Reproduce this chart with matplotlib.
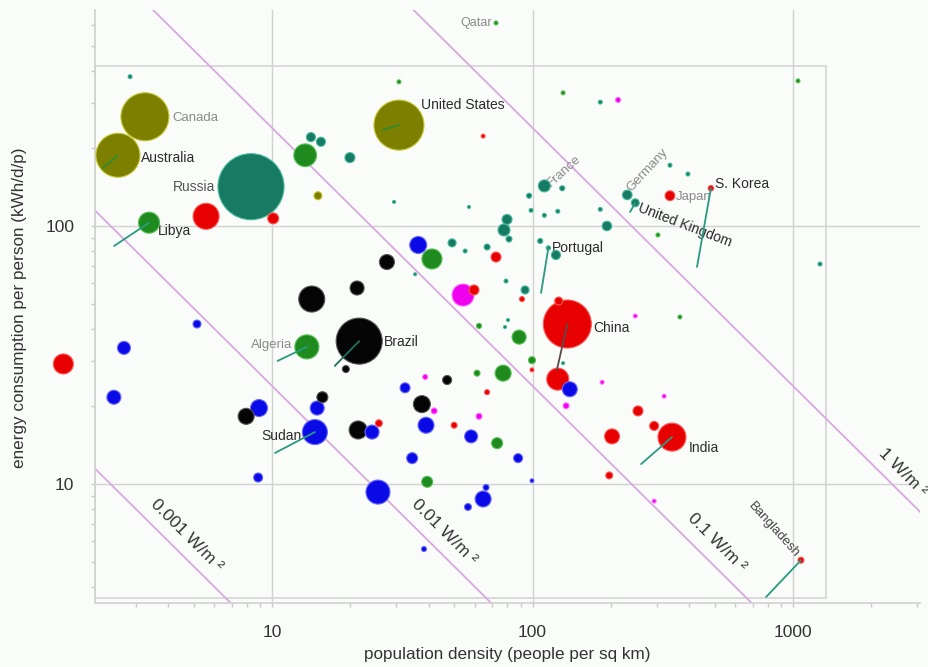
import matplotlib

matplotlib.use("Agg")
import matplotlib.pyplot as plt
import numpy as np
from matplotlib.ticker import FixedLocator, NullFormatter, LogLocator

plt.rcParams["font.family"] = ["Liberation Sans", "DejaVu Sans"]

# density (people per sq km), energy (kWh/d/p), land area (million sq km) per region
olive_density = [3.25, 2.56, 30.7, 15.0]
olive_energy = [265, 188, 246, 131]
olive_area = [9.0, 7.56, 9.77, 0.25]

teal_density = [2.85, 8.3, 14.1, 15.4, 19.9, 29.4, 49.1, 55.1, 35.4, 182, 111, 130, 97, 98.7,
                111, 125, 182, 193, 231, 248, 337, 395, 79.8, 77.7, 81.2, 57.0, 1269, 107,
                115, 123, 66.9, 79.1, 93.6, 80.5, 78.4, 131]
teal_energy = [379, 142, 221, 212, 184, 124, 86, 80, 65, 302, 143, 140, 131, 115,
               110, 114, 116, 100, 132, 123, 172, 159, 106, 96.5, 89, 118.5, 71.2, 87.5,
               82.2, 77.2, 82.9, 61.2, 56.5, 43.2, 40.6, 29.4]
teal_area = [0.06, 17.0, 0.32, 0.32, 0.39, 0.035, 0.25, 0.06, 0.035, 0.06, 0.56, 0.1, 0.1, 0.06,
             0.06, 0.06, 0.06, 0.35, 0.36, 0.24, 0.06, 0.06, 0.39, 0.56, 0.14, 0.035, 0.06, 0.1,
             0.07, 0.32, 0.14, 0.06, 0.25, 0.035, 0.035, 0.035]

green_density = [3.37, 13.4, 30.7, 41.1, 72.4, 131, 303, 1045, 62.3, 88.8, 99.5, 77.1, 61.2,
                 368, 73.1, 13.6, 39.4]
green_energy = [103, 188, 362, 74.5, 612, 328, 92.3, 365, 41.0, 37.1, 30.2, 26.9, 26.9,
                44.4, 14.4, 34.0, 10.2]
green_area = [1.72, 2.0, 0.06, 1.56, 0.06, 0.06, 0.06, 0.06, 0.1, 0.77, 0.19, 1.0, 0.14,
              0.06, 0.47, 2.25, 0.47]

red_density = [5.58, 10.1, 64.6, 337, 484, 72.4, 91.1, 59.6, 136, 126, 99.5, 66.9, 125,
               254, 293, 343, 202, 197, 1073, 25.7, 50.0, 1.58]
red_energy = [109, 107, 223, 131, 140, 75.8, 52.1, 56.5, 41.7, 51.2, 27.7, 22.7, 25.5,
              19.2, 16.8, 15.2, 15.3, 10.8, 5.07, 17.2, 16.9, 29.2]
red_area = [2.64, 0.47, 0.06, 0.38, 0.12, 0.39, 0.1, 0.39, 9.0, 0.25, 0.06, 0.1, 1.9,
            0.39, 0.32, 3.06, 0.88, 0.19, 0.14, 0.19, 0.14, 1.56]

blue_density = [5.15, 36.4, 139, 58.1, 88.0, 99.5, 66.3, 64.6, 56.5, 32.4, 8.91, 14.9, 14.6,
                24.2, 39.0, 34.5, 8.84, 25.5, 38.3, 2.70, 2.47]
blue_energy = [41.7, 84.4, 23.3, 15.3, 12.6, 10.3, 9.7, 8.75, 8.15, 23.6, 19.7, 19.7, 15.9,
               15.9, 16.9, 12.6, 10.6, 9.31, 5.6, 33.7, 21.7]
blue_area = [0.25, 1.13, 0.88, 0.66, 0.32, 0.06, 0.14, 1.0, 0.19, 0.39, 1.13, 0.77, 2.44,
             0.77, 1.0, 0.47, 0.32, 2.25, 0.1, 0.66, 0.77]

black_density = [27.6, 14.2, 21.2, 21.6, 19.2, 47.0, 15.6, 7.95, 21.4, 37.6]
black_energy = [72.5, 52.1, 57.5, 35.8, 27.9, 25.3, 21.7, 18.3, 16.2, 20.4]
black_area = [0.88, 2.64, 0.77, 8.27, 0.19, 0.32, 0.47, 1.0, 1.27, 1.13]

magenta_density = [54.1, 213, 248, 185, 320, 134.5, 293, 62.3, 38.7, 41.9]
magenta_energy = [54.0, 308, 44.8, 24.8, 21.9, 20.1, 8.59, 18.3, 26.0, 19.2]
magenta_area = [1.9, 0.1, 0.06, 0.06, 0.06, 0.14, 0.06, 0.14, 0.1, 0.14]

regions = {
    "olive": (olive_density, olive_energy, olive_area, "#7d7f00", "#c9c93a"),
    "teal": (teal_density, teal_energy, teal_area, "#177a63", "#45b89a"),
    "green": (green_density, green_energy, green_area, "#1f8b1f", "#55c055"),
    "red": (red_density, red_energy, red_area, "#e60000", "#ff5a5a"),
    "blue": (blue_density, blue_energy, blue_area, "#0a0ae6", "#6a6aff"),
    "black": (black_density, black_energy, black_area, "#050505", "#555555"),
    "magenta": (magenta_density, magenta_energy, magenta_area, "#ee00ee", "#ff70ff"),
}

# name, region, index, offset x/y (px), ha, rotation, colour, size
labels = [
    ("Qatar", "green", 4, -4, 0, "right", 0, "#8a8a8a", 9),
    ("Canada", "olive", 0, 27, -1, "left", 0, "#8a8a8a", 9.5),
    ("United States", "olive", 2, 22, 20, "left", 0, "#2b2b2b", 10),
    ("Australia", "olive", 1, 23, -3, "left", 0, "#2b2b2b", 10),
    ("Russia", "teal", 1, -36, 0, "right", 0, "#555555", 10),
    ("Libya", "green", 0, 9, -8, "left", 0, "#2b2b2b", 10),
    ("France", "teal", 10, 5, 1, "left", 42, "#8a8a8a", 9.5),
    ("Germany", "teal", 18, 2, 5, "left", 47, "#8a8a8a", 9.5),
    ("United Kingdom", "teal", 19, 3, -5, "left", -21, "#2b2b2b", 10),
    ("Japan", "red", 3, 6, -1, "left", 0, "#8a8a8a", 9.5),
    ("S. Korea", "red", 4, 4, 4, "left", 0, "#2b2b2b", 10),
    ("Portugal", "teal", 28, 4, 0, "left", 0, "#2b2b2b", 10),
    ("China", "red", 8, 26, -4, "left", 0, "#2b2b2b", 10),
    ("Algeria", "green", 15, -15, 2, "right", 0, "#8a8a8a", 9.5),
    ("Brazil", "black", 3, 25, -1, "left", 0, "#2b2b2b", 10),
    ("Sudan", "blue", 12, -54, -4, "left", 0, "#2b2b2b", 10),
    ("India", "red", 15, 17, -11, "left", 0, "#2b2b2b", 10),
    ("Bangladesh", "red", 18, -4, 4, "right", -48, "#444444", 9.5),
]

# leader lines: region, index, start density, start energy, colour
leaders = [
    ("olive", 1, 2.245, 168, "#2e8b2e"),
    ("green", 0, 2.475, 83.7, "#2a9a80"),
    ("olive", 2, 26.7, 236, "#2e8b2e"),
    ("green", 15, 10.5, 30.0, "#2a9a80"),
    ("black", 3, 17.4, 28.7, "#1f6f5f"),
    ("blue", 12, 10.27, 13.2, "#2a9a80"),
    ("teal", 28, 107.8, 55.0, "#2a9a80"),
    ("red", 8, 124, 27.7, "#5a4a4a"),
    ("red", 4, 428, 69.4, "#2a9a80"),
    ("teal", 19, 236.7, 113.3, "#2a9a80"),
    ("red", 15, 261, 11.95, "#2a9a80"),
    ("red", 18, 788, 3.65, "#2a9a80"),
]

power_levels = [0.001, 0.01, 0.1, 1]
power_label_x = [4.68, 45.7, 511, 2644]
power_label_y = [6.34, 6.52, 5.96, 11.1]

bg = "#f9fcf9"
fig = plt.figure(figsize=(9.29, 6.67), dpi=100, facecolor=bg)
ax = fig.add_axes([95 / 929, 1 - 603 / 667, 825 / 929, 593 / 667], facecolor=bg)
ax.set_xscale("log")
ax.set_yscale("log")
ax.set_xlim(2.09, 3073)
ax.set_ylim(3.46, 687)

for s in ["top", "right"]:
    ax.spines[s].set_visible(False)
for s in ["left", "bottom"]:
    ax.spines[s].set_color("#d0d0d0")
    ax.spines[s].set_linewidth(1.2)

ax.xaxis.set_major_locator(FixedLocator([10, 100, 1000]))
ax.yaxis.set_major_locator(FixedLocator([10, 100]))
ax.set_xticklabels(["10", "100", "1000"])
ax.set_yticklabels(["10", "100"])
ax.xaxis.set_minor_locator(LogLocator(subs=np.arange(2, 10)))
ax.yaxis.set_minor_locator(LogLocator(subs=np.arange(2, 10)))
ax.xaxis.set_minor_formatter(NullFormatter())
ax.yaxis.set_minor_formatter(NullFormatter())
ax.tick_params(which="both", color="#c8c8c8", length=3, width=1)
ax.tick_params(axis="x", which="major", labelsize=12.5, labelcolor="#333333", pad=13)
ax.tick_params(axis="y", which="major", labelsize=12.5, labelcolor="#333333", pad=12)

ax.grid(True, which="major", color="#d2d2d2", lw=1, zorder=0)
ax.set_axisbelow(True)

# inner frame
bx = [2.09, 1339, 1339, 2.09, 2.09]
by = [3.62, 3.62, 417, 417, 3.62]
ax.plot(bx, by, color="#d4d4d4", lw=1.2, zorder=1)

# constant power-per-area lines: 1 kWh/d = 1000/24 W
d = np.array([0.5, 20000.0])
for p, lx, ly in zip(power_levels, power_label_x, power_label_y):
    ax.plot(d, p * 1e6 * 24 / 1000 / d, color="#d8a8e0", lw=1.3, zorder=1)
    txt = f"{p:g} W/m ²"
    ax.text(lx, ly, txt, rotation=-45, ha="center", va="center", fontsize=12.5,
            color="#333333", rotation_mode="anchor", zorder=2)

# draw all bubbles, biggest first
allx, ally, alls, allc, alle = [], [], [], [], []
for name, (dx, ex, ar, fc, ec) in regions.items():
    for x, y, a in zip(dx, ex, ar):
        allx.append(x); ally.append(y); alls.append(133 * a); allc.append(fc); alle.append(ec)
order = np.argsort(alls)[::-1]
ax.scatter(np.array(allx)[order], np.array(ally)[order], s=np.array(alls)[order],
           c=np.array(allc)[order], edgecolors=np.array(alle)[order], linewidths=0.8,
           zorder=3, clip_on=False)

for reg, i, sx, sy, col in leaders:
    px = regions[reg][0][i]
    py = regions[reg][1][i]
    ax.plot([sx, px], [sy, py], color=col, lw=1.3, zorder=3.5, solid_capstyle="round")

for name, reg, i, ox, oy, ha, rot, col, fs in labels:
    px = regions[reg][0][i]
    py = regions[reg][1][i]
    ax.annotate(name, (px, py), xytext=(ox * 0.72, oy * 0.72), textcoords="offset points",
                ha=ha, va="center", rotation=rot, rotation_mode="anchor",
                color=col, fontsize=fs, zorder=2.5)

fig.text(507 / 929, 1 - 655 / 667, "population density (people per sq km)", ha="center",
         va="center", fontsize=12.3, color="#333333")
fig.text(20 / 929, 1 - 308 / 667, "energy consumption per person (kWh/d/p)", ha="center",
         va="center", rotation=90, fontsize=12.3, color="#333333")

fig.savefig("out.png", dpi=100, facecolor=bg)
